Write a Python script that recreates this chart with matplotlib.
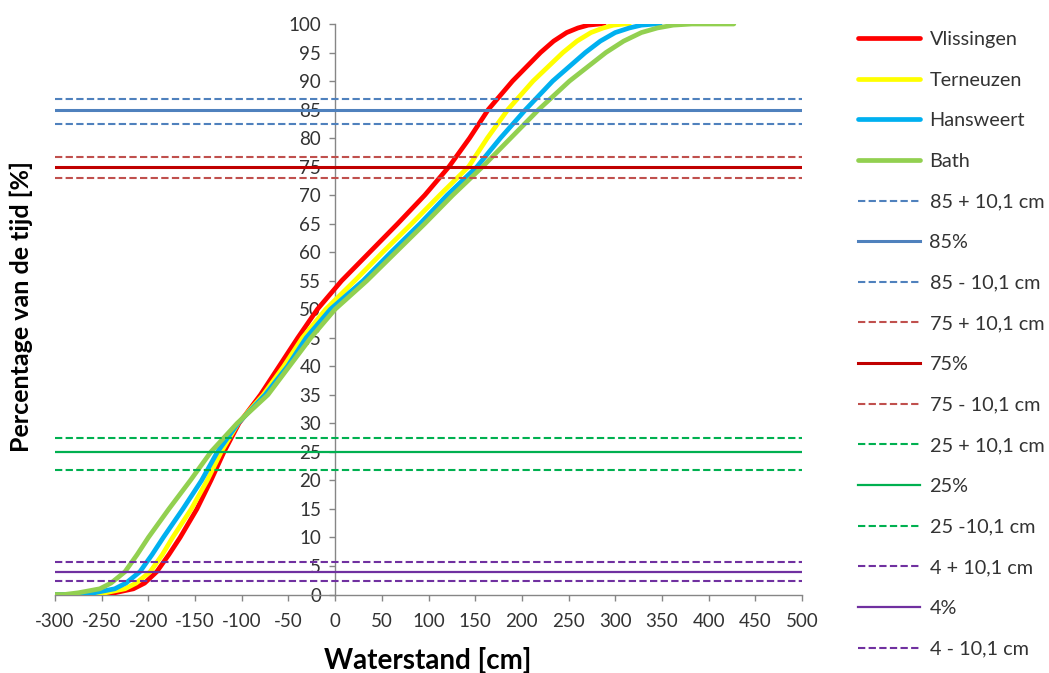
import matplotlib
matplotlib.use("Agg")
import matplotlib.pyplot as plt

plt.rcParams['font.family'] = ['Lato', 'DejaVu Sans']
plt.rcParams['axes.unicode_minus'] = False

# cumulative percentage levels (shared by the station curves)
pct = [0, 0, 0.3, 1, 2, 4, 7, 10, 15, 20, 25, 30, 35, 40, 45, 50, 55, 60,
       65, 70, 75, 80, 85, 90, 95, 97, 98.5, 99.3, 99.8, 100, 100]

# water level (cm) at each percentage, per station
vlissingen = [-300, -258, -236, -216, -204, -191, -178, -166, -148, -133, -119, -103,
              -80, -60, -40, -19, 7, 37, 67, 96, 122, 144, 164, 190, 220, 234, 248, 260,
              271, 283, 288]
terneuzen = [-300, -268, -246, -225, -213, -198, -185, -174, -154, -137, -122, -104,
             -77, -55, -35, -10, 21, 51, 82, 112, 143, 163, 185, 212, 244, 259, 274, 287,
             298, 310, 315]
hansweert = [-300, -278, -258, -236, -224, -209, -196, -184, -163, -143, -126, -104,
             -75, -51, -31, -5, 30, 60, 91, 120, 152, 177, 204, 233, 268, 284, 300, 315,
             328, 343, 348]
bath = [-300, -290, -275, -252, -240, -225, -212, -200, -178, -155, -133, -105,
        -72, -49, -26, 0, 34, 65, 96, 126, 158, 188, 218, 251, 290, 309, 328, 345,
        362, 382, 427]

stations = ["Vlissingen", "Terneuzen", "Hansweert", "Bath"]
station_values = [vlissingen, terneuzen, hansweert, bath]
station_colors = ["#FF0000", "#FFFF00", "#00B0F0", "#92D050"]

# horizontal reference lines
ref_labels = ["85 + 10,1 cm", "85%", "85 - 10,1 cm",
              "75 + 10,1 cm", "75%", "75 - 10,1 cm",
              "25 + 10,1 cm", "25%", "25 -10,1 cm",
              "4 + 10,1 cm", "4%", "4 - 10,1 cm"]
ref_values = [86.9, 85, 82.4, 76.7, 75, 73.0, 27.5, 25, 21.9, 5.7, 4, 2.4]
ref_colors = ["#4F81BD", "#4F81BD", "#4F81BD",
              "#C0504D", "#C00000", "#C0504D",
              "#00B050", "#00B050", "#00B050",
              "#7030A0", "#7030A0", "#7030A0"]
ref_dashed = [True, False, True] * 4
ref_widths = [1.5, 2.2, 1.5, 1.5, 2.2, 1.5, 1.5, 1.6, 1.5, 1.5, 1.6, 1.5]

x_ticks = list(range(-300, 501, 50))
y_ticks = list(range(0, 101, 5))

fig = plt.figure(figsize=(10.49, 6.73), dpi=100)
ax = fig.add_axes([55 / 1049, 1 - 594.5 / 673, (802 - 55) / 1049, (594.5 - 24) / 673])

for name, vals, col in zip(stations, station_values, station_colors):
    ax.plot(vals, pct, color=col, lw=3.4, label=name, solid_capstyle='round',
            solid_joinstyle='round', zorder=3)

for lab, val, col, dsh, w in zip(ref_labels, ref_values, ref_colors, ref_dashed, ref_widths):
    kw = dict(dashes=(3.5, 1.6)) if dsh else {}
    ax.plot([x_ticks[0], x_ticks[-1]], [val, val], color=col, lw=w, label=lab,
            zorder=4, **kw)

ax.set_xlim(-300, 500)
ax.set_ylim(0, 100)
ax.set_xticks(x_ticks)
ax.set_yticks(y_ticks)

ax.spines['left'].set_position(('data', 0))
ax.spines['top'].set_visible(False)
ax.spines['right'].set_visible(False)
for s in ('left', 'bottom'):
    ax.spines[s].set_color('#868686')
    ax.spines[s].set_linewidth(1.0)
ax.tick_params(axis='both', direction='out', length=4, width=1.0, color='#868686',
               labelsize=13.5, labelcolor='#333333')
ax.tick_params(axis='y', pad=6)
ax.tick_params(axis='x', pad=9)

fig.text(428 / 1049, 1 - 660 / 673, "Waterstand [cm]", ha='center', va='center',
         fontsize=20, fontweight='bold', color='#000000')
fig.text(21 / 1049, 1 - 307 / 673, "Percentage van de tijd [%]", ha='center', va='center',
         rotation=90, fontsize=18, fontweight='bold', color='#000000')

handles, labels = ax.get_legend_handles_labels()
leg = fig.legend(handles, labels, loc='upper left', bbox_to_anchor=(858 / 1049, 1 - 31 / 673),
                 frameon=False, fontsize=14.3, handlelength=3.1, handletextpad=0.5,
                 labelspacing=1.19, borderaxespad=0, borderpad=0)
for t in leg.get_texts():
    t.set_color('#333333')

fig.savefig("out.png", dpi=100)
